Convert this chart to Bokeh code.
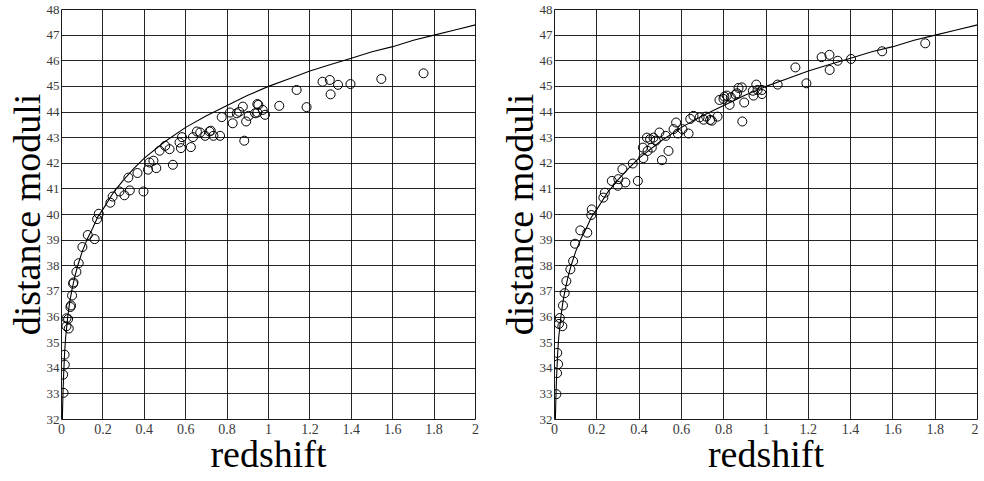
from bokeh.plotting import figure
from bokeh.layouts import row
from bokeh.models import FixedTicker, Range1d
from bokeh.embed import file_html
from bokeh.resources import INLINE

# ---------------- data ----------------
x_ticks = [0, 0.2, 0.4, 0.6, 0.8, 1, 1.2, 1.4, 1.6, 1.8, 2]
x_tick_labels = ["0", "0.2", "0.4", "0.6", "0.8", "1", "1.2", "1.4", "1.6", "1.8", "2"]
y_ticks = list(range(32, 49))

# theoretical curve
curve_z = [0.004, 0.005, 0.0075, 0.01, 0.015, 0.02, 0.03, 0.04, 0.05, 0.065, 0.08,
           0.1, 0.125, 0.15, 0.175, 0.2, 0.25, 0.3, 0.35, 0.4, 0.5, 0.6, 0.7, 0.8,
           0.9, 1.0, 1.1, 1.2, 1.3, 1.4, 1.5, 1.6, 1.7, 1.8, 1.9, 2.0]
curve_mu = [32.0, 32.3, 33.1, 33.7, 34.6, 35.2, 36.0, 36.6, 37.05, 37.6, 38.05,
            38.55, 39.05, 39.45, 39.9, 40.2, 40.85, 41.35, 41.8, 42.2, 42.85, 43.4,
            43.85, 44.25, 44.65, 45.0, 45.3, 45.6, 45.85, 46.1, 46.35, 46.55, 46.8,
            47.0, 47.2, 47.4]

# left panel: observed distance moduli
left_z = [0.008, 0.010, 0.015, 0.016, 0.024, 0.024, 0.032, 0.035, 0.043, 0.046,
          0.051, 0.056, 0.058, 0.072, 0.083, 0.101, 0.127, 0.160, 0.172, 0.180,
          0.236, 0.247, 0.280, 0.304, 0.330, 0.323, 0.367, 0.396, 0.418, 0.425,
          0.444, 0.458, 0.474, 0.501, 0.522, 0.538, 0.570, 0.577, 0.582, 0.625,
          0.635, 0.654, 0.670, 0.694, 0.715, 0.721, 0.734, 0.766, 0.774, 0.814,
          0.827, 0.847, 0.859, 0.876, 0.883, 0.892, 0.904, 0.935, 0.946, 0.946,
          0.951, 0.972, 0.983, 1.052, 1.136, 1.184, 1.261, 1.296, 1.300, 1.336,
          1.396, 1.545, 1.749]
left_mu = [33.75, 33.04, 34.53, 34.14, 35.64, 35.95, 35.92, 35.55, 36.39, 36.45,
           36.84, 37.30, 37.35, 37.76, 38.10, 38.73, 39.20, 39.04, 39.82, 40.03,
           40.46, 40.70, 40.90, 40.75, 40.94, 41.44, 41.62, 40.90, 41.75, 42.03,
           42.10, 41.81, 42.49, 42.68, 42.55, 41.94, 42.81, 42.59, 43.02, 42.63,
           43.02, 43.24, 43.20, 43.07, 43.24, 43.27, 43.07, 43.07, 43.80, 43.98,
           43.56, 43.95, 44.01, 44.21, 42.88, 43.63, 43.85, 43.95, 44.31, 43.98,
           44.28, 44.08, 43.89, 44.24, 44.86, 44.19, 45.18, 45.25, 44.69, 45.06,
           45.09, 45.29, 45.51]

# right panel: corrected distance moduli
right_z = [0.009, 0.012, 0.017, 0.013, 0.025, 0.021, 0.037, 0.040, 0.048, 0.056,
           0.075, 0.088, 0.097, 0.122, 0.155, 0.174, 0.176,
           0.231, 0.238, 0.271, 0.299, 0.302, 0.321, 0.335, 0.370, 0.394, 0.418,
           0.420, 0.437, 0.440, 0.452, 0.460, 0.468, 0.479, 0.496, 0.508, 0.526,
           0.539, 0.563, 0.575, 0.583, 0.605, 0.634, 0.642, 0.657, 0.686, 0.705,
           0.717, 0.736, 0.744, 0.771, 0.780, 0.799, 0.803, 0.815, 0.828, 0.834,
           0.855, 0.863, 0.870, 0.888, 0.886, 0.897, 0.938, 0.941, 0.954, 0.960,
           0.981, 0.981, 1.055, 1.139, 1.191, 1.263, 1.300, 1.301, 1.339, 1.402,
           1.549, 1.753]
right_mu = [32.99, 33.81, 34.16, 34.60, 35.96, 35.73, 35.64, 36.45, 36.93, 37.40,
            37.86, 38.18, 38.86, 39.38, 39.29, 39.98, 40.20,
            40.66, 40.85, 41.31, 41.12, 41.38, 41.77, 41.25, 41.99, 41.31, 42.61,
            42.20, 43.00, 42.48, 42.94, 42.61, 43.00, 42.88, 43.20, 42.12, 43.07,
            42.48, 43.33, 43.59, 43.16, 43.33, 43.16, 43.73, 43.85, 43.79, 43.70,
            43.82, 43.69, 43.66, 43.82, 44.47, 44.51, 44.60, 44.64, 44.28, 44.57,
            44.68, 44.73, 44.94, 43.63, 44.96, 44.37, 44.83, 44.64, 45.07, 44.86,
            44.70, 44.86, 45.07, 45.74, 45.12, 46.14, 46.23, 45.64, 46.00, 46.07,
            46.37, 46.68]

SERIF = "Liberation Serif"


def make_panel(zs, mus, border_left, frame_w, border_right):
    p = figure(frame_width=frame_w, frame_height=410,
               x_range=Range1d(0, 2), y_range=Range1d(32, 48),
               output_backend="svg", toolbar_location=None,
               min_border_left=border_left, min_border_right=border_right,
               min_border_top=9, min_border_bottom=62,
               background_fill_color="white", border_fill_color="white")
    p.outline_line_color = "black"
    p.outline_line_alpha = 0.9
    p.outline_line_width = 1

    for g, t in ((p.xgrid, x_ticks), (p.ygrid, y_ticks)):
        g.ticker = FixedTicker(ticks=t)
        g.grid_line_color = "black"
        g.grid_line_alpha = 0.85
        g.grid_line_width = 1

    p.xaxis.ticker = FixedTicker(ticks=x_ticks)
    p.xaxis.major_label_overrides = {t: l for t, l in zip(x_ticks, x_tick_labels)}
    p.yaxis.ticker = FixedTicker(ticks=y_ticks)

    for ax in (p.xaxis[0], p.yaxis[0]):
        ax.axis_line_color = None
        ax.major_tick_line_color = None
        ax.minor_tick_line_color = None
        ax.major_tick_out = 0
        ax.major_tick_in = 0
        ax.major_label_text_font = SERIF
        ax.major_label_text_color = "#3a3a3a"
        ax.axis_label_text_font = SERIF
        ax.axis_label_text_font_style = "normal"
        ax.axis_label_text_font_size = "38px"
        ax.axis_label_text_color = "black"

    p.xaxis.major_label_text_font_size = "14px"
    p.xaxis.major_label_standoff = 4
    p.xaxis.axis_label = "redshift"
    p.xaxis.axis_label_standoff = -4

    p.yaxis.major_label_text_font_size = "13px"
    p.yaxis.major_label_standoff = 2
    p.yaxis.axis_label = "distance moduli"
    p.yaxis.axis_label_standoff = -4

    p.line(curve_z, curve_mu, line_color="black", line_width=1.1)
    p.scatter(zs, mus, marker="circle", size=9, fill_color=None,
              line_color="black", line_width=1)
    return p


left = make_panel(left_z, left_mu, 61, 414, 17)
right = make_panel(right_z, right_mu, 62, 423, 1)

layout = row(left, right, spacing=0)
open("out.html", "w").write(file_html(layout, INLINE))
